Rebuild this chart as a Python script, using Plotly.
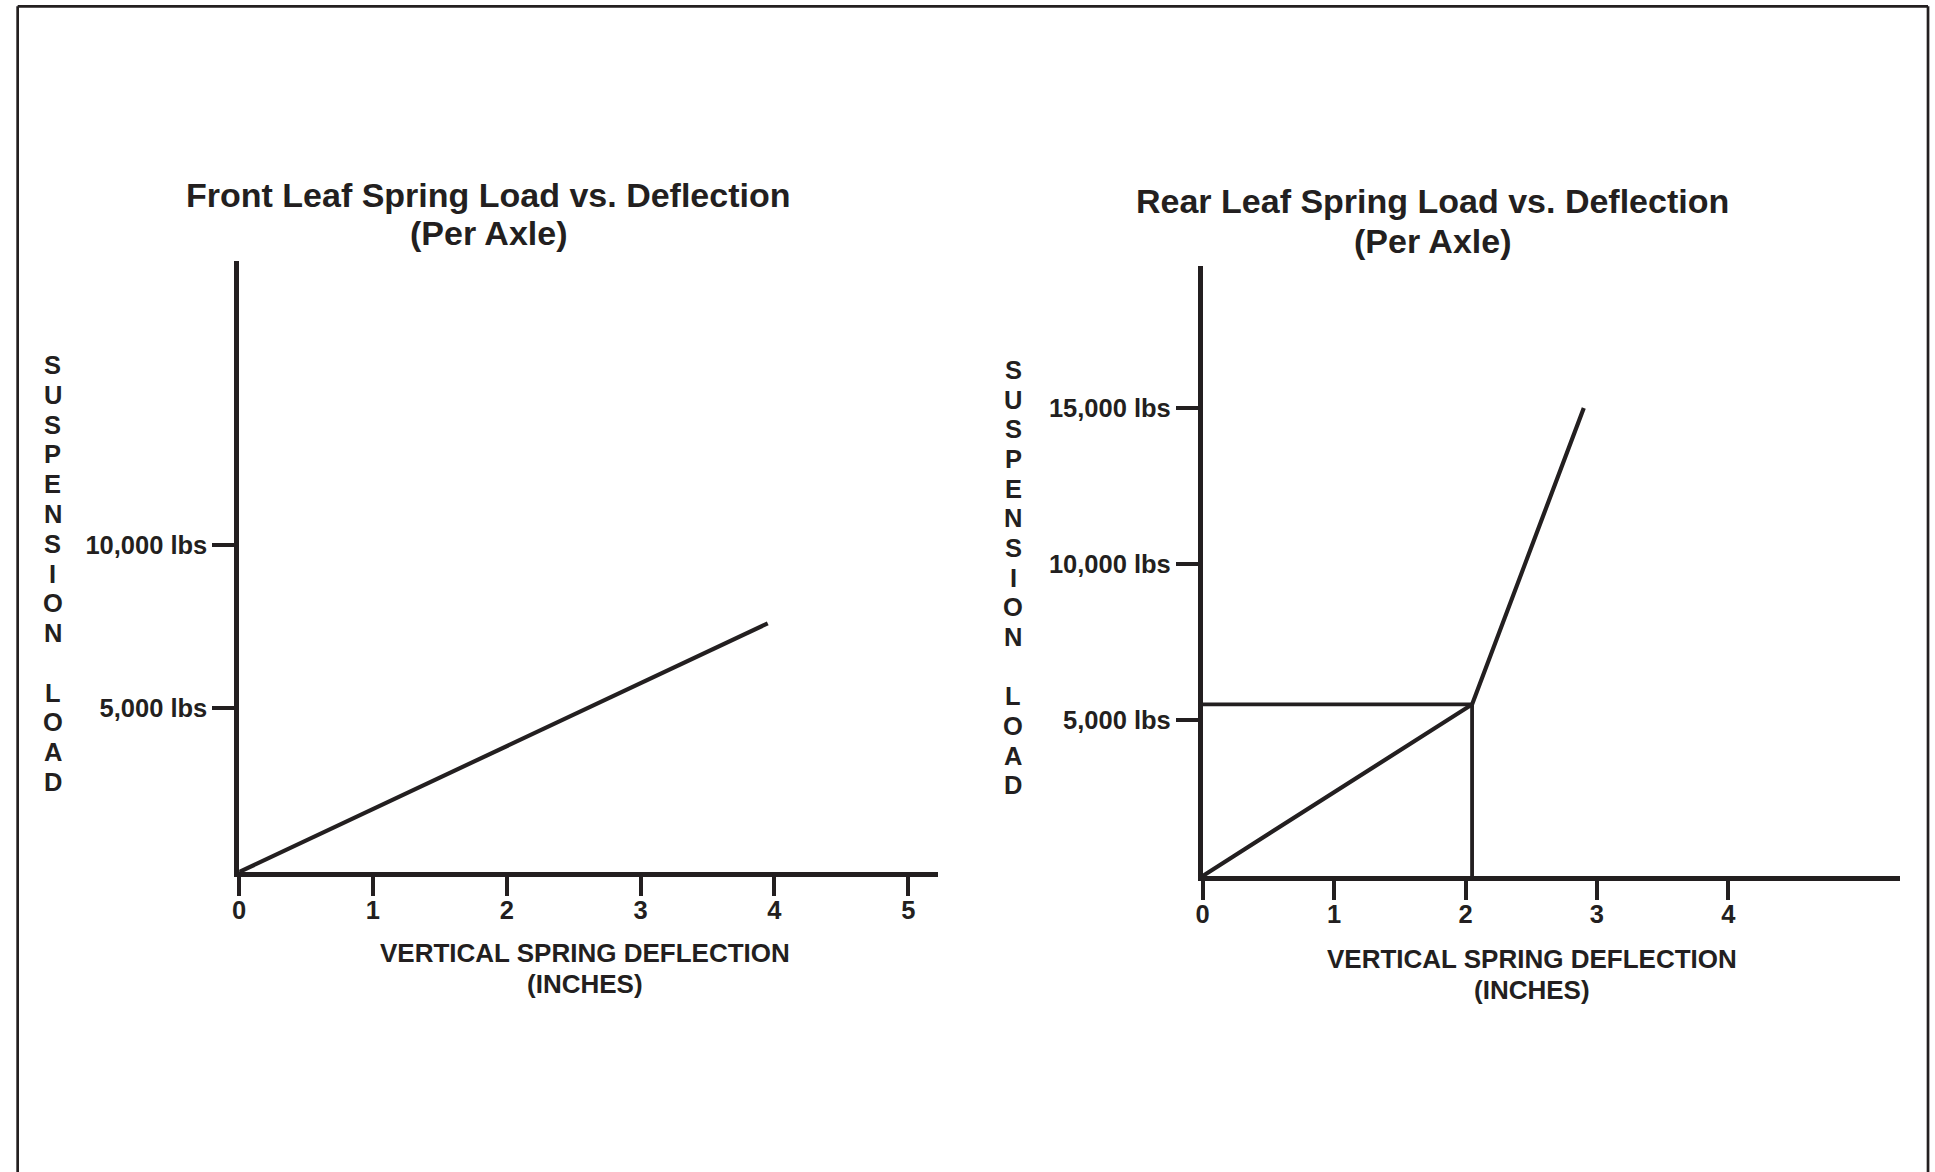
import plotly.graph_objects as go

# ---------------- data ----------------
front_deflection = [0, 3.95]
front_load = [0, 7600]

rear_deflection = [0, 2.05, 2.9]
rear_load = [0, 5500, 15000]

front_x_ticks = [0, 1, 2, 3, 4, 5]
rear_x_ticks = [0, 1, 2, 3, 4]
front_y_ticks = [5000, 10000]
front_y_labels = ["5,000 lbs", "10,000 lbs"]
rear_y_ticks = [5000, 10000, 15000]
rear_y_labels = ["5,000 lbs", "10,000 lbs", "15,000 lbs"]

front_title = ["Front Leaf Spring Load vs. Deflection", "(Per Axle)"]
rear_title = ["Rear Leaf Spring Load vs. Deflection", "(Per Axle)"]
x_title = ["VERTICAL SPRING DEFLECTION", "(INCHES)"]
y_title = "SUSPENSION LOAD"

# ---------------- layout helpers ----------------
W, H = 1935, 1172
INK = "#231f20"
FONT = "Liberation Sans"


def px(x):
    return x / W


def py(y):
    return 1 - y / H


fig = go.Figure()

# front chart
fig.add_trace(go.Scatter(x=front_deflection, y=front_load, mode="lines",
                         line=dict(color=INK, width=4.2), xaxis="x", yaxis="y",
                         showlegend=False, hoverinfo="skip"))

# rear chart: guide lines from the knee point
kx, ky = rear_deflection[1], rear_load[1]
fig.add_trace(go.Scatter(x=[0, kx, kx], y=[ky, ky, 0], mode="lines",
                         line=dict(color=INK, width=3.8), xaxis="x2", yaxis="y2",
                         showlegend=False, hoverinfo="skip"))
fig.add_trace(go.Scatter(x=rear_deflection, y=rear_load, mode="lines",
                         line=dict(color=INK, width=4.2), xaxis="x2", yaxis="y2",
                         showlegend=False, hoverinfo="skip"))

tickfont = dict(family=FONT, size=25.5, color=INK, weight="bold")
axis_common = dict(showgrid=False, zeroline=False, showline=True, linecolor=INK,
                   linewidth=4.5, ticks="outside", tickcolor=INK, tickwidth=4,
                   tickfont=tickfont, fixedrange=True)

# pixel extents of axes
L_x0, L_x1, L_y0, L_y1 = 233, 934, 872, 261
R_x0, R_x1, R_y0, R_y1 = 1200, 1900, 876, 266
L_xs, L_ys = 134.3, 0.03272  # px per inch, px per lb
R_xs, R_ys = 131.9, 0.0312

fig.update_layout(
    width=W, height=H, margin=dict(l=0, r=0, t=0, b=0),
    paper_bgcolor="white", plot_bgcolor="white",
    xaxis=dict(domain=[px(L_x0), px(L_x1)], range=[0, (L_x1 - L_x0) / L_xs],
               tickvals=front_x_ticks, ticktext=[str(v) for v in front_x_ticks],
               ticklen=19, ticklabelstandoff=-7, anchor="y", **axis_common),
    yaxis=dict(domain=[py(L_y0), py(L_y1)], range=[0, (L_y0 - L_y1) / L_ys],
               tickvals=front_y_ticks, ticktext=front_y_labels,
               ticklen=22, anchor="x", **axis_common),
    xaxis2=dict(domain=[px(R_x0), px(R_x1)], range=[0, (R_x1 - R_x0) / R_xs],
                tickvals=rear_x_ticks, ticktext=[str(v) for v in rear_x_ticks],
                ticklen=19, ticklabelstandoff=-7, anchor="y2", **axis_common),
    yaxis2=dict(domain=[py(R_y0), py(R_y1)], range=[0, (R_y0 - R_y1) / R_ys],
                tickvals=rear_y_ticks, ticktext=rear_y_labels,
                ticklen=22, anchor="x2", **axis_common),
)

ann = []


def text(x, y, s, size, anchor="center"):
    ann.append(dict(x=px(x), y=py(y), xref="paper", yref="paper", text=s,
                    showarrow=False, xanchor=anchor, yanchor="middle",
                    font=dict(family=FONT, size=size, color=INK, weight="bold")))


# titles
text(483, 195, front_title[0], 34)
text(483, 233, front_title[1], 34)
text(1431, 201, rear_title[0], 34)
text(1431, 241, rear_title[1], 34)
# x titles
text(580, 953, x_title[0], 26)
text(580, 984, x_title[1], 26)
text(1531, 959, x_title[0], 26)
text(1531, 990, x_title[1], 26)

# vertical stacked y titles, one letter per line
def stacked(x, y_first, y_last, s):
    step = (y_last - y_first) / (len(s) - 1)
    for i, c in enumerate(s):
        if c != " ":
            text(x, y_first + i * step, c, 25.5)


stacked(46, 365, 782, y_title)
stacked(1010, 370, 785.5, y_title)

fig.update_layout(annotations=ann)

# page frame
fig.update_layout(shapes=[
    dict(type="line", xref="paper", yref="paper", x0=px(10.7), x1=px(1928), y0=py(6.3), y1=py(6.3),
         line=dict(color=INK, width=2.7)),
    dict(type="line", xref="paper", yref="paper", x0=px(10.7), x1=px(10.7), y0=py(6.3), y1=0,
         line=dict(color=INK, width=2.7)),
    dict(type="line", xref="paper", yref="paper", x0=px(1928), x1=px(1928), y0=py(6.3), y1=0,
         line=dict(color=INK, width=2.7)),
])

fig.write_html("out.html", config={"displayModeBar": False},
               post_script="document.body.style.margin='0';document.body.style.overflow='hidden';")
